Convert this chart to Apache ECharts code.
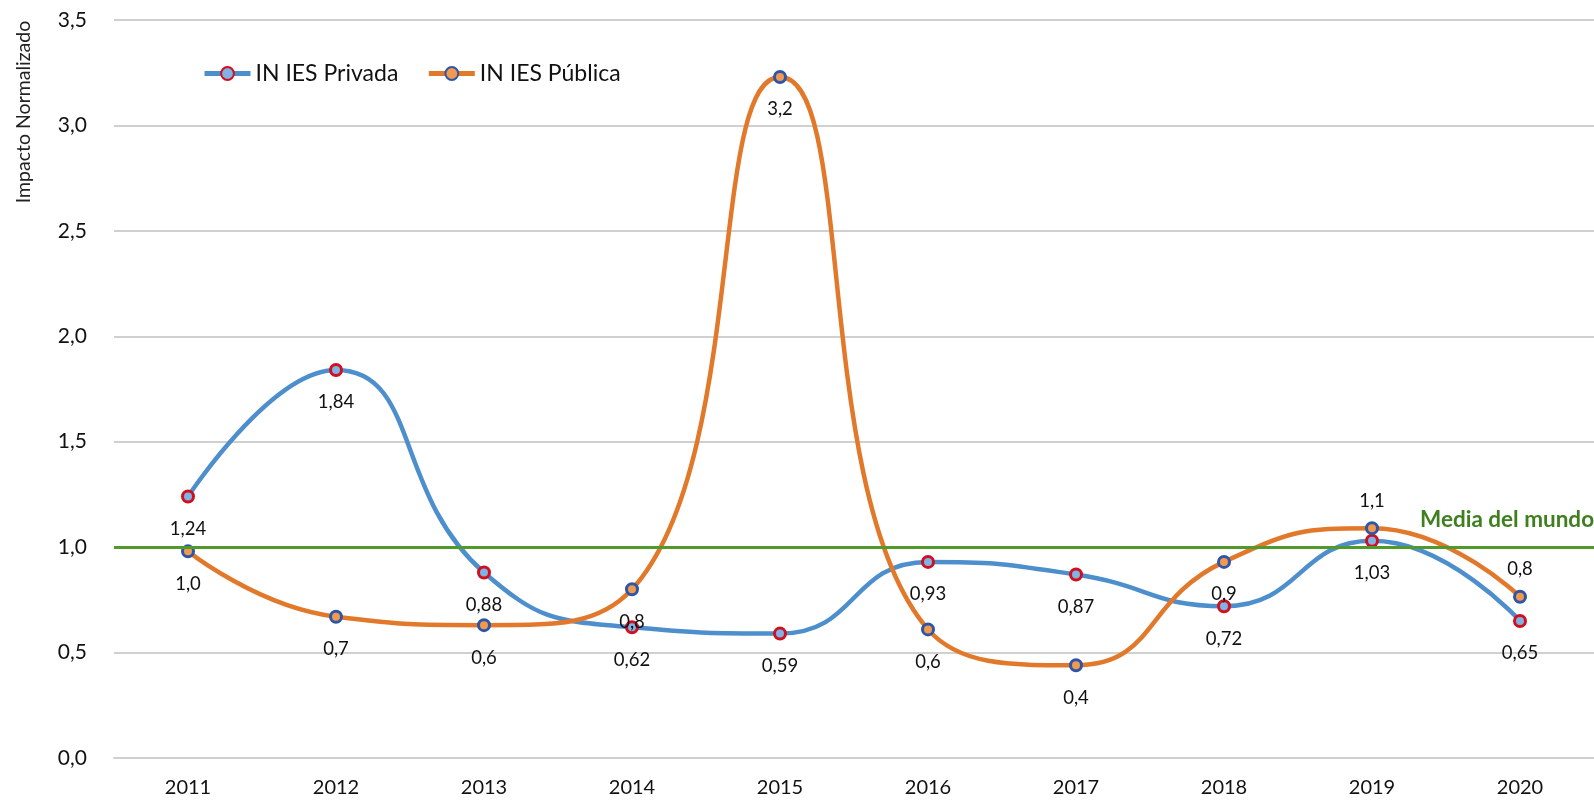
<!DOCTYPE html>
<html>
<head>
<meta charset="utf-8">
<script src="https://cdn.jsdelivr.net/npm/echarts@6/dist/echarts.min.js"></script>
<style>
  html, body { margin: 0; padding: 0; background: #fff; }
  #chart { width: 1594px; height: 802px; }
</style>
</head>
<body>
<div id="chart"></div>
<script>
const years = ['2011', '2012', '2013', '2014', '2015', '2016', '2017', '2018', '2019', '2020'];
const privada = [1.24, 1.84, 0.88, 0.62, 0.59, 0.93, 0.87, 0.72, 1.03, 0.65];
const privadaLabels = ['1,24', '1,84', '0,88', '0,62', '0,59', '0,93', '0,87', '0,72', '1,03', '0,65'];
const publica = [0.98, 0.67, 0.63, 0.80, 3.23, 0.61, 0.44, 0.93, 1.09, 0.765];
const publicaLabels = ['1,0', '0,7', '0,6', '0,8', '3,2', '0,6', '0,4', '0,9', '1,1', '0,8'];
const labelsAbove = ['2019', '2020'];
const mediaMundo = 1.0;
const yTicks = ['0,0', '0,5', '1,0', '1,5', '2,0', '2,5', '3,0', '3,5'];

const FONT = 'Lato, "Open Sans", sans-serif';

// label text and side per point
const buildData = (values, labels, above) => values.map((v, i) => {
  const up = above && above.indexOf(years[i]) >= 0;
  return {
    value: v,
    label: { formatter: labels[i], position: up ? 'top' : 'bottom', distance: up ? 11 : 16 }
  };
});

const chart = echarts.init(document.getElementById('chart'));
chart.setOption({
  animation: false,
  grid: { left: 114, right: 0, top: 20, bottom: 44 },
  legend: {
    left: 197,
    top: 57,
    itemWidth: 46,
    itemHeight: 16,
    itemGap: 28,
    lineStyle: { width: 5 },
    textStyle: { fontFamily: FONT, fontSize: 23, color: '#111' },
    data: ['IN IES Privada', 'IN IES Pública']
  },
  xAxis: {
    type: 'category',
    data: years,
    axisLine: { lineStyle: { color: '#d0d0d0', width: 2 } },
    axisTick: { show: false },
    axisLabel: { fontFamily: FONT, fontSize: 20, color: '#111', margin: 20 }
  },
  yAxis: {
    type: 'value',
    min: 0,
    max: 3.5,
    interval: 0.5,
    axisLine: { show: false },
    axisTick: { show: false },
    splitLine: { lineStyle: { color: '#d0d0d0', width: 2 } },
    axisLabel: {
      fontFamily: FONT, fontSize: 21, color: '#111', margin: 27,
      formatter: v => yTicks[Math.round(v * 2)]
    }
  },
  graphic: [
    {
      type: 'text',
      x: 24, y: 112,
      rotation: Math.PI / 2,
      style: {
        text: 'Impacto Normalizado',
        fontFamily: FONT, fontSize: 19.5, fill: '#222',
        align: 'center', verticalAlign: 'middle'
      }
    },
    {
      type: 'text',
      left: 1420, top: 508,
      style: {
        text: 'Media del mundo',
        fontFamily: FONT, fontSize: 22.5, fontWeight: 'bold', fill: '#3f7f1f'
      }
    }
  ],
  series: [
    {
      name: 'IN IES Privada',
      type: 'line',
      smooth: 0.5,
      data: buildData(privada, privadaLabels),
      symbol: 'circle',
      symbolSize: 11,
      lineStyle: { color: '#4d8fcc', width: 4.5 },
      itemStyle: { color: '#7fb2e5', borderColor: '#d0101e', borderWidth: 3 },
      label: { show: true, fontFamily: FONT, fontSize: 18.5, color: '#111' },
      z: 3,
      markLine: {
        silent: true,
        symbol: 'none',
        label: { show: false },
        lineStyle: { color: '#4f9a2a', width: 3, type: 'solid' },
        data: [{ yAxis: mediaMundo }]
      }
    },
    {
      name: 'IN IES Pública',
      type: 'line',
      smooth: 0.5,
      data: buildData(publica, publicaLabels, labelsAbove),
      symbol: 'circle',
      symbolSize: 11,
      lineStyle: { color: '#e2782a', width: 4.5 },
      itemStyle: { color: '#f09a50', borderColor: '#2f55a8', borderWidth: 3 },
      label: { show: true, fontFamily: FONT, fontSize: 18.5, color: '#111' },
      z: 4
    }
  ]
});
</script>
</body>
</html>
